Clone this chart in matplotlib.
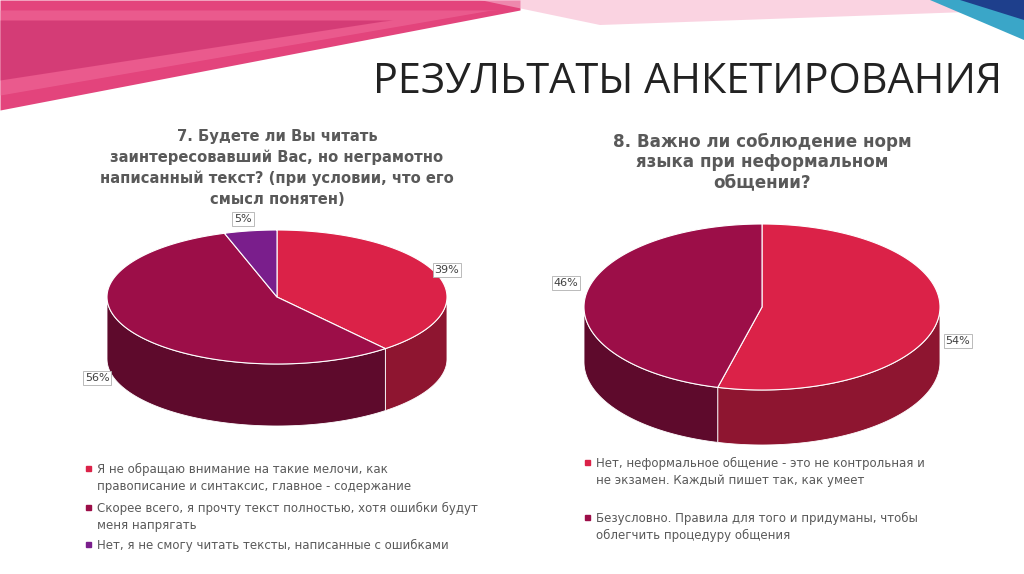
import numpy as np
import matplotlib
matplotlib.use("Agg")
import matplotlib.pyplot as plt
from matplotlib.patches import Polygon

title = "РЕЗУЛЬТАТЫ АНКЕТИРОВАНИЯ"
q7_title = "7. Будете ли Вы читать\nзаинтересовавший Вас, но неграмотно\nнаписанный текст? (при условии, что его\nсмысл понятен)"
q7_values = [39, 56, 5]
q7_labels = ["39%", "56%", "5%"]
q7_legend = ["Я не обращаю внимание на такие мелочи, как\nправописание и синтаксис, главное - содержание",
             "Скорее всего, я прочту текст полностью, хотя ошибки будут\nменя напрягать",
             "Нет, я не смогу читать тексты, написанные с ошибками"]
q8_title = "8. Важно ли соблюдение норм\nязыка при неформальном\nобщении?"
q8_values = [54, 46]
q8_labels = ["54%", "46%"]
q8_legend = ["Нет, неформальное общение - это не контрольная и\nне экзамен. Каждый пишет так, как умеет",
             "Безусловно. Правила для того и придуманы, чтобы\nоблегчить процедуру общения"]

top_cols = ["#DB2248", "#9C0E48", "#7A1E8C"]
side_cols = ["#8E1530", "#5E0A2C", "#4A1056"]

fig = plt.figure(figsize=(10.24, 5.74), dpi=100)
ax = fig.add_axes([0, 0, 1, 1])
ax.set_xlim(0, 1024); ax.set_ylim(574, 0); ax.axis("off")

# decorative bands
for i, (c, a) in enumerate([("#E0306E", 0.9), ("#F06A9A", 0.6), ("#C02060", 0.5)]):
    xs = np.linspace(0, 520, 50)
    top = 0 + 10 * i + 0 * xs
    bot = 110 - i * 15 - xs * (100 - i * 10) / 520
    ax.fill_between(xs, top, np.maximum(bot, top), color=c, alpha=a, lw=0)
ax.fill([480, 1024, 1024, 600], [0, 0, 10, 25], color="#F7B6CE", alpha=0.6, lw=0)
ax.fill([930, 1024, 1024], [0, 0, 40], color="#3AA6C8", lw=0)
ax.fill([960, 1024, 1024], [0, 0, 20], color="#1E3F8C", lw=0)

ax.text(373, 82, title, fontsize=29.9, family="Open Sans", color="#222222", va="center")

def pie3d(cx, cy, rx, ry, d, vals, tops, sides):
    total = sum(vals)
    start = 90.0
    spans = []
    for v in vals:
        a0 = start - 360 * v / total
        spans.append((a0, start)); start = a0
    for (a0, a1), sc in zip(spans, sides):
        for k in (-1, 0, 1):
            lo = max(a0, 180 + 360 * k); hi = min(a1, 360 + 360 * k)
            if hi > lo:
                t = np.radians(np.linspace(lo, hi, 80))
                x = cx + rx * np.cos(t); y = cy - ry * np.sin(t)
                pts = np.r_[np.c_[x, y], np.c_[x[::-1], y[::-1] + d]]
                ax.add_patch(Polygon(pts, fc=sc, ec="#ffffff", lw=0.6))
    for (a0, a1), tc in zip(spans, tops):
        t = np.radians(np.linspace(a0, a1, 150))
        pts = np.r_[[[cx, cy]], np.c_[cx + rx * np.cos(t), cy - ry * np.sin(t)]]
        ax.add_patch(Polygon(pts, fc=tc, ec="#ffffff", lw=0.8))

pie3d(277, 297, 170, 67, 62, q7_values, top_cols, side_cols)
pie3d(762, 307, 178, 83, 55, q8_values, top_cols[:2], side_cols[:2])

def lab(x, y, s):
    ax.text(x, y, s, fontsize=8, color="#404040", ha="center", va="center",
            bbox=dict(fc="white", ec="#b0b0b0", lw=0.6, pad=1.5))
for (x, y), s in zip([(447, 270), (97, 378), (243, 219)], q7_labels):
    lab(x, y, s)
for (x, y), s in zip([(958, 341), (566, 283)], q8_labels):
    lab(x, y, s)

ax.text(277, 168, q7_title, fontsize=10.6, weight="bold", color="#595959",
        ha="center", va="center", linespacing=1.45)
ax.text(762, 162, q8_title, fontsize=12.1, weight="bold", color="#595959",
        ha="center", va="center", linespacing=1.15)

def legend(x, ys, texts, cols):
    for y, t, c in zip(ys, texts, cols):
        ax.add_patch(plt.Rectangle((x, y - 3), 5, 5, color=c))
        ax.text(x + 11, y - 6, t, fontsize=8.5, color="#595959", va="top", linespacing=1.35)
legend(86, [469, 508, 545], q7_legend, top_cols)
legend(585, [463, 518], q8_legend, top_cols[:2])

fig.savefig("out.png", dpi=100, facecolor="white")
